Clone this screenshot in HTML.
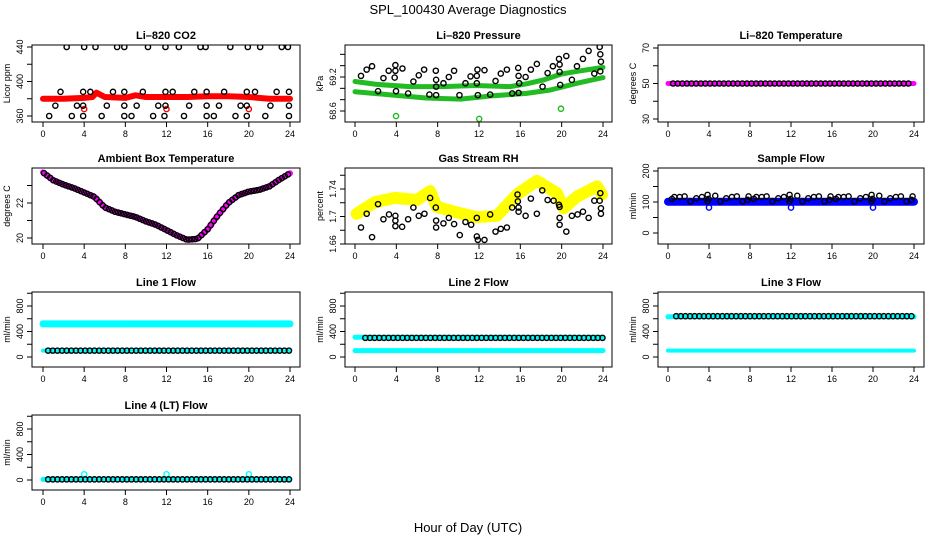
<!DOCTYPE html>
<html><head><meta charset="utf-8">
<style>
html,body{margin:0;padding:0;background:#fff;}
svg{display:block;font-family:"Liberation Sans",Arial,sans-serif;}
</style></head>
<body>
<svg id="fig" width="936" height="540" viewBox="0 0 936 540">
<text x="468" y="14" text-anchor="middle" font-size="13">SPL_100430  Average Diagnostics</text>
<text x="468" y="532" text-anchor="middle" font-size="13">Hour of Day (UTC)</text>
</svg>
<script>
// ---- data ----
const xTicks = [0,4,8,12,16,20,24];
const co2H440 = [2.3,4.0,5.1,7.2,7.9,10.2,11.9,13.2,15.3,15.8,18.2,19.9,21.1,23.2,23.8];
const co2H360 = [0.6,2.8,3.9,5.7,7.9,8.6,10.7,11.8,13.7,15.9,16.6,18.7,19.8,21.6,23.9];
const co2H388 = [1.7,3.9,4.6,6.8,7.9,9.7,11.9,12.6,14.7,15.9,17.6,19.8,20.6,22.7,23.9];
const co2H372 = [1.2,3.3,3.9,6.2,7.9,9.1,11.2,11.9,14.2,15.9,17.1,19.2,19.8,22.1,23.9];
const co2BandH = [0,2,4,4.8,5.2,6,8,9,10,12,14,16,18,20,22,24];
const co2BandV = [380,380,381,382,387,382,381,384,382,382,382,383,383,382,380,380];
const co2RedH = [4.0,12.0,20.0];
const co2RedV = [368,368,368];

const presH = [0.58,1.13,1.65,2.23,2.75,3.26,3.84,3.91,3.91,3.97,4.59,5.14,5.65,6.17,6.69,7.20,7.82,7.85,7.85,7.85,8.56,9.08,9.59,10.11,10.69,11.18,11.79,11.79,11.85,11.89,12.53,13.08,13.60,14.11,14.70,15.21,15.79,15.83,15.83,15.89,16.51,17.02,17.60,18.15,18.64,19.15,19.74,19.80,19.80,19.86,20.45,20.99,21.48,22.06,22.61,23.16,23.68,23.74,23.80,23.74];
const presV = [69.22,69.33,69.39,68.95,69.18,69.31,69.19,69.41,69.31,68.95,69.35,68.91,69.12,69.23,69.33,68.89,69.31,69.15,69.03,68.88,69.09,69.20,69.31,68.88,69.09,69.21,69.22,69.09,69.33,68.88,69.32,68.89,69.13,69.26,69.33,68.91,69.36,69.22,68.92,69.09,69.20,69.33,69.43,69.03,69.27,69.39,69.52,69.42,69.29,69.06,69.57,69.15,69.39,69.52,69.66,69.26,69.73,69.60,69.47,69.30];
const presUpH = [0,2.1,5.3,8.5,11.7,15.0,16.6,18.3,19.9,21.5,24];
const presUpV = [69.12,69.07,69.03,69.03,69.05,69.03,69.08,69.15,69.25,69.30,69.37];
const presLoH = [0,3.7,6.9,10.2,13.4,16.6,18.9,21.5,24];
const presLoV = [68.94,68.88,68.83,68.81,68.87,68.91,68.97,69.09,69.19];
const presGreenH = [3.97,12.02,19.93];
const presGreenV = [68.51,68.46,68.64];

const ambH = [0,1,2,3,4,5,6,7,8,9,10,11,12,13,14,15,16,17,18,19,20,21,22,23,24];
const ambV = [23.75,23.3,23.05,22.85,22.6,22.35,21.75,21.5,21.35,21.2,20.95,20.75,20.45,20.15,19.9,19.95,20.5,21.3,22.0,22.45,22.65,22.75,22.95,23.35,23.7];

const rhBandH = [0.16,1.94,3.88,5.98,7.27,7.91,9.85,11.79,13.73,15.67,17.60,19.54,20.19,21.48,23.42,23.9];
const rhBandV = [1.704,1.721,1.727,1.724,1.737,1.714,1.706,1.699,1.701,1.732,1.752,1.734,1.712,1.729,1.744,1.732];
const rhH = [0.58,1.13,1.65,2.23,2.75,3.29,3.91,3.91,3.91,4.56,5.14,5.65,6.17,6.72,7.27,7.82,7.85,7.85,8.56,9.08,9.59,10.14,10.69,11.24,11.79,11.79,11.89,12.53,13.08,13.60,14.11,14.70,15.21,15.73,15.76,15.83,15.83,16.51,17.02,17.60,18.12,18.64,19.22,19.74,19.80,19.80,19.80,20.45,20.99,21.54,22.06,22.61,23.16,23.68,23.74,23.80,23.80];
const rhV = [1.684,1.704,1.670,1.718,1.696,1.703,1.701,1.694,1.686,1.685,1.696,1.713,1.701,1.704,1.727,1.713,1.694,1.684,1.690,1.698,1.689,1.673,1.692,1.688,1.698,1.671,1.666,1.666,1.703,1.678,1.682,1.684,1.713,1.732,1.722,1.713,1.707,1.701,1.726,1.704,1.738,1.724,1.723,1.717,1.714,1.698,1.688,1.678,1.701,1.703,1.707,1.698,1.723,1.723,1.734,1.712,1.704];

const sfH = [0.39,0.62,1.14,1.62,2.18,2.76,3.31,3.86,3.86,3.96,4.61,5.10,5.68,6.23,6.72,7.27,7.76,7.86,8.39,8.62,9.14,9.62,10.18,10.76,11.31,11.86,11.86,11.96,12.61,13.10,13.68,14.23,14.72,15.27,15.76,15.86,16.39,16.62,17.14,17.62,18.18,18.76,19.31,19.86,19.86,19.96,20.61,21.10,21.68,22.23,22.72,23.27,23.76,23.86];
const sfV = [110,116,116,118,102,112,116,123,102,110,120,102,112,116,118,102,107,118,110,116,116,118,102,112,116,123,102,110,120,102,112,116,118,102,107,118,110,116,116,118,102,112,116,123,102,110,120,102,112,116,118,102,107,118];
const sfBlueOutH = [4.0,12.0,20.0];
const sfBlueOutV = [82,82,82];
const sampleBand = 101;

const line1High = 520, line1Low = 100, line1Black = 100;
const line2High = 310, line2Low = 100, line2Black = 300;
const line3High = 630, line3Low = 100, line3Black = 640;
const line4Base = 10, line4Black = 10;
const line4OutH = [4.0,12.0,20.0];
const line4OutV = [90,90,90];

// ---- drawing ----
const NS = "http://www.w3.org/2000/svg";
const svg = document.getElementById('fig');
function mk(tag, attrs, parent){const e=document.createElementNS(NS,tag);for(const k in attrs)e.setAttribute(k,attrs[k]);(parent||svg).appendChild(e);return e;}

const cols = [{l:32,r:300,x0:43,x1:290,tx:10},{l:345,r:612,x0:355,x1:603,tx:323},{l:658,r:924,x0:668,x1:914,tx:636}];
const rows = [{t:45,b:122},{t:168,b:244},{t:292,b:367},{t:415,b:490}];

function panel(name, col, row, title, ytitle, v0, p0, v1, p1, yticks, ylabels){
  const c=cols[col], r=rows[row];
  const g=mk('g',{});
  
  
  const P={g:g,c:c,r:r,
    x:h=>c.x0+(c.x1-c.x0)*h/24,
    y:v=>p0+(p1-p0)*(v-v0)/(v1-v0)};
  const clip=mk('clipPath',{id:'clip-'+name},g);
  mk('rect',{x:c.l,y:r.t,width:c.r-c.l,height:r.b-r.t},clip);
  P.plot=mk('g',{'clip-path':'url(#clip-'+name+')'},g);
  const box=mk('rect',{x:c.l,y:r.t,width:c.r-c.l,height:r.b-r.t,fill:'none',stroke:'#000','stroke-width':1},g);
  
  
  const tt=mk('text',{x:(c.l+c.r)/2,y:r.t-6,'text-anchor':'middle','font-size':11,'font-weight':'bold'},g);
  tt.textContent=title;
  
  
  xTicks.forEach(h=>{
    const x=P.x(h);
    mk('line',{x1:x,x2:x,y1:r.b,y2:r.b+5,stroke:'#000'},g);
    const t=mk('text',{x:x,y:r.b+15,'text-anchor':'middle','font-size':9},g);
    t.textContent=h;
    
    
  });
  yticks.forEach(v=>{
    const y=P.y(v);
    if(y<r.t-1||y>r.b+1) return;
    mk('line',{x1:c.l-5,x2:c.l,y1:y,y2:y,stroke:'#000'},g);
  });
  ylabels.forEach(v=>{
    const y=P.y(v);
    const t=mk('text',{x:c.l-9,y:y,'text-anchor':'middle','font-size':9,transform:'rotate(-90 '+(c.l-9)+' '+y+')'},g);
    t.textContent=v;
    
    
  });
  const yt=mk('text',{x:c.tx,y:(r.t+r.b)/2,'text-anchor':'middle','font-size':9,transform:'rotate(-90 '+c.tx+' '+((r.t+r.b)/2)+')'},g);
  yt.textContent=ytitle;
  
  
  return P;
}
function pts(P,hs,vs,color,nm){
  hs.forEach((h,i)=>{
    const e=mk('circle',{cx:P.x(h),cy:P.y(vs[i]),r:2.6,fill:'none',stroke:color,'stroke-width':1.4},P.plot);
    
    
  });
}
function band(P,hs,vs,color,w,nm){
  const d=hs.map((h,i)=>(i?'L':'M')+P.x(h).toFixed(1)+' '+P.y(vs[i]).toFixed(1)).join(' ');
  const e=mk('path',{d:d,fill:'none',stroke:color,'stroke-width':w,'stroke-linejoin':'round','stroke-linecap':'round'},P.plot);
  
  
}
function interp(hs,vs,h){for(let i=1;i<hs.length;i++){if(h<=hs[i]){const f=(h-hs[i-1])/(hs[i]-hs[i-1]);return vs[i-1]+f*(vs[i]-vs[i-1]);}}return vs[vs.length-1];}
function circlesAlong(P,hs,vs,from,to,step,color,nm){
  const H=[],V=[];
  for(let h=from;h<=to+1e-9;h+=step){H.push(h);V.push(interp(hs,vs,h));}
  pts(P,H,V,color,nm);
}
function constBand(P,v,from,to,color,w,nm){band(P,[from,to],[v,v],color,w,nm);}

// Panel 1 CO2
let P=panel('co2-panel',0,0,'Li\u2013820 CO2','Licor ppm',360,116,440,47,[360,380,400,420,440],[360,400,440]);
band(P,co2BandH,co2BandV,'#ff0000',6,'co2-band');
pts(P,co2RedH,co2RedV,'#ff0000','co2-red-point');
pts(P,co2H440,co2H440.map(()=>440),'#000','co2-point');
pts(P,co2H360,co2H360.map(()=>360),'#000','co2-point');
pts(P,co2H388,co2H388.map(()=>388),'#000','co2-point');
pts(P,co2H372,co2H372.map(()=>372),'#000','co2-point');

// Panel 2 Pressure
P=panel('pressure-panel',1,0,'Li\u2013820 Pressure','kPa',68.6,111,69.2,77,[68.6,68.8,69.0,69.2,69.4,69.6],[68.6,69.2]);
band(P,presUpH,presUpV,'#22bb22',5,'pressure-band-upper');
band(P,presLoH,presLoV,'#22bb22',5,'pressure-band-lower');
pts(P,presGreenH,presGreenV,'#22bb22','pressure-green-point');
pts(P,presH,presV,'#000','pressure-point');

// Panel 3 Li-820 temp
P=panel('li820-temp-panel',2,0,'Li\u2013820 Temperature','degrees C',30,119,70,48,[30,40,50,60,70],[30,50,70]);
constBand(P,50,0,24,'#ff00ff',5,'li820-temp-band');
circlesAlong(P,[0,24],[50,50],0.5,23.8,0.45,'#000','li820-temp-point');

// Panel 4 Ambient
P=panel('ambient-temp-panel',0,1,'Ambient Box Temperature','degrees C',20,238,22,203,[20,21,22,23],[20,22]);
band(P,ambH,ambV,'#ff00ff',6,'ambient-temp-band');
circlesAlong(P,ambH,ambV,0.1,23.9,0.3,'#000','ambient-temp-point');

// Panel 5 RH
P=panel('rh-panel',1,1,'Gas Stream RH','percent',1.66,244,1.74,189,[1.66,1.68,1.70,1.72,1.74,1.76],[1.66,1.70,1.74]);
band(P,rhBandH,rhBandV,'#ffff00',12,'rh-yellow-band');
pts(P,rhH,rhV,'#000','rh-point');

// Panel 6 Sample flow
P=panel('sample-flow-panel',2,1,'Sample Flow','ml/min',0,233,200,171,[0,50,100,150,200],[0,100,200]);
constBand(P,sampleBand,0,24,'#0000ff',8,'sample-flow-band');
pts(P,sfBlueOutH,sfBlueOutV,'#0000ff','sample-flow-blue-point');
pts(P,sfH,sfV,'#000','sample-flow-point');

const flowTicks=[0,200,400,600,800,1000], flowLabels=[0,400,800];
// Line 1
P=panel('line1-flow-panel',0,2,'Line 1 Flow','ml/min',0,357,800,306,flowTicks,flowLabels);
constBand(P,line1High,0,24,'#00ffff',7,'line1-high-band');
constBand(P,line1Low,0,24,'#00ffff',4,'line1-low-band');
circlesAlong(P,[0,24],[line1Black,line1Black],0.5,24,0.45,'#000','line1-point');
// Line 2
P=panel('line2-flow-panel',1,2,'Line 2 Flow','ml/min',0,357,800,306,flowTicks,flowLabels);
constBand(P,line2High,0,24,'#00ffff',5,'line2-high-band');
constBand(P,line2Low,0,24,'#00ffff',5,'line2-low-band');
circlesAlong(P,[0,24],[line2Black,line2Black],1,24,0.45,'#000','line2-point');
// Line 3
P=panel('line3-flow-panel',2,2,'Line 3 Flow','ml/min',0,357,800,306,flowTicks,flowLabels);
constBand(P,line3High,0,24,'#00ffff',5,'line3-high-band');
constBand(P,line3Low,0,24,'#00ffff',4,'line3-low-band');
circlesAlong(P,[0,24],[line3Black,line3Black],0.8,24,0.45,'#000','line3-point');
// Line 4
P=panel('line4-flow-panel',0,3,'Line 4 (LT) Flow','ml/min',0,480,800,429,flowTicks,flowLabels);
constBand(P,line4Base,0,24,'#00ffff',5,'line4-band');
pts(P,line4OutH,line4OutV,'#00ffff','line4-cyan-point');
circlesAlong(P,[0,24],[line4Black,line4Black],0.5,24,0.45,'#000','line4-point');
</script>
</body></html>
